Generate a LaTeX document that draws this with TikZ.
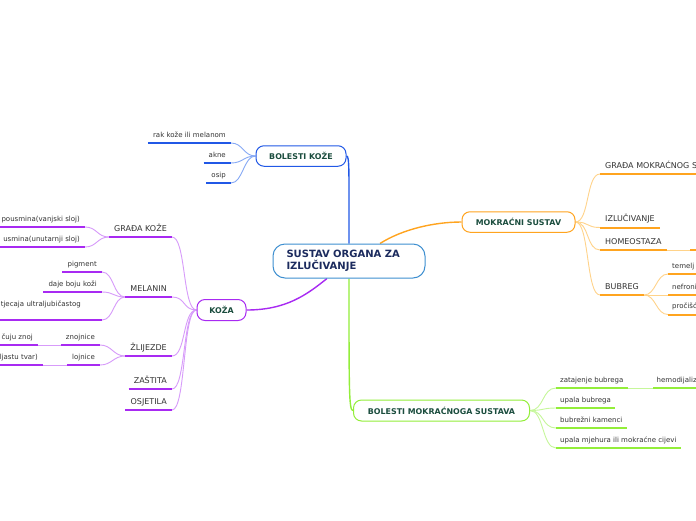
\documentclass[tikz,border=0pt]{standalone}
\usepackage{fontspec}
\setmainfont{DejaVu Sans}
\usetikzlibrary{calc,backgrounds}
\definecolor{txt}{HTML}{333333}
\definecolor{boxtxt}{HTML}{1B4D3E}
\definecolor{navy}{HTML}{1C2B5E}
\definecolor{cborder}{HTML}{3E8FD0}
\definecolor{blueD}{HTML}{2158E6}
\definecolor{blueL}{HTML}{86A9F5}
\definecolor{orD}{HTML}{FFA41F}
\definecolor{orL}{HTML}{FFD38A}
\definecolor{grD}{HTML}{93EE3A}
\definecolor{grL}{HTML}{C6F79A}
\definecolor{puD}{HTML}{A82AF2}
\definecolor{puL}{HTML}{D79BFA}
\tikzset{
  cbox/.style={draw=cborder, line width=1pt, fill=white, rounded corners=12pt,
    minimum width=152pt, minimum height=34pt, inner xsep=13.5pt, inner ysep=0pt,
    text width=125pt, align=left, font=\bfseries\fontsize{10}{11.5}\selectfont, text=navy},
  mbox/.style={draw=#1, line width=1pt, fill=white, rounded corners=8pt,
    minimum height=20.5pt, inner sep=0pt, font=\bfseries\fontsize{7.9}{9}\selectfont, text=boxtxt},
  leafbig/.style={inner xsep=5pt, inner ysep=3pt, text height=6pt, text depth=2.5pt,
    font=\fontsize{8}{9.6}\selectfont, text=txt},
  leafsm/.style={inner xsep=5pt, inner ysep=3pt, text height=5.5pt, text depth=2.5pt,
    font=\fontsize{7}{8.4}\selectfont, text=txt},
  conn/.style={draw=#1, line width=0.9pt},
  trunk/.style={draw=#1, line width=1.4pt},
}
\begin{document}
\begin{tikzpicture}[x=1pt,y=-1pt]
\useasboundingbox (0,0) rectangle (696,520);

% main boxes
\node[cbox] (c) at (349,261) {SUSTAV ORGANA ZA\\IZLUČIVANJE};
\node[mbox=blueD, minimum width=90pt] (bk) at (301,156) {BOLESTI KOŽE};
\node[mbox=orD, minimum width=113pt] (mk) at (518.5,222) {MOKRAĆNI SUSTAV};
\node[mbox=grD, minimum width=176pt, minimum height=21pt] (bm) at (441.5,410.5) {BOLESTI MOKRAĆNOGA SUSTAVA};
\node[mbox=puD, minimum width=49pt, minimum height=21pt] (kz) at (221.5,310) {KOŽA};

% blue leaves
\node[leafsm, anchor=south east] (b1) at (231,143) {rak kože ili melanom};
\node[leafsm, anchor=south east] (b2) at (231,163) {akne};
\node[leafsm, anchor=south east] (b3) at (231,183) {osip};

% orange leaves
\node[leafbig, anchor=south west, text width=100pt, align=left] (o1) at (600,174) {GRAĐA MOKRAĆNOG S};
\node[leafbig, anchor=south west] (o2) at (600,227.5) {IZLUČIVANJE};
\node[leafbig, anchor=south west] (o3) at (600,250) {HOMEOSTAZA};
\node[leafbig, anchor=south west, minimum width=20pt] (o31) at (690,250) {};
\node[leafbig, anchor=south west] (o4) at (600,295) {BUBREG};
\node[leafsm, anchor=south west, text width=30pt, align=left, inner xsep=4pt] (o41) at (668,274) {temelj};
\node[leafsm, anchor=south west, text width=30pt, align=left, inner xsep=4pt] (o42) at (668,295) {nefroni};
\node[leafsm, anchor=south west, text width=30pt, align=left, inner xsep=4pt] (o43) at (668,314.5) {pročišć};

% green leaves
\node[leafsm, anchor=south west, inner xsep=4pt] (g1) at (556,388) {zatajenje bubrega};
\node[leafsm, anchor=south west, inner xsep=3.5pt, text width=45pt, align=left] (g11) at (653,388) {hemodijaliz};
\node[leafsm, anchor=south west, inner xsep=4pt] (g2) at (556,408) {upala bubrega};
\node[leafsm, anchor=south west, inner xsep=4pt] (g3) at (556,428) {bubrežni kamenci};
\node[leafsm, anchor=south west, inner xsep=4pt] (g4) at (556,448) {upala mjehura ili mokraćne cijevi};

% purple leaves
\node[leafbig, anchor=south east] (p1) at (172,237) {GRAĐA KOŽE};
\node[leafsm, anchor=south east] (p11) at (85,227) {pousmina(vanjski sloj)};
\node[leafsm, anchor=south east] (p12) at (85,247) {usmina(unutarnji sloj)};
\node[leafbig, anchor=south east] (p2) at (172,297) {MELANIN};
\node[leafsm, anchor=south east] (p21) at (102,272) {pigment};
\node[leafsm, anchor=south east] (p22) at (102,292) {daje boju koži};
\node[leafsm, anchor=south east, text width=96pt, align=left, text depth=10.5pt] (p23) at (102,320) {tjecaja ultraljubičastog};
\node[leafbig, anchor=south east] (p3) at (172,356) {ŽLIJEZDE};
\node[leafsm, anchor=south east] (p31) at (100,345) {znojnice};
\node[leafsm, anchor=south east] (p311) at (38,345) {čuju znoj};
\node[leafsm, anchor=south east] (p32) at (100,365) {lojnice};
\node[leafsm, anchor=south east] (p321) at (43,365) {ljastu tvar)};
\node[leafbig, anchor=south east] (p4) at (172,389) {ZAŠTITA};
\node[leafbig, anchor=south east] (p5) at (172,410) {OSJETILA};

\begin{scope}[on background layer]
\fill[white] (0,0) rectangle (696,520);
% trunks
\draw[trunk=blueD] (c.north) .. controls +(0,-75) and +(3,0) .. (bk.east);
\draw[trunk=orD] ($(c.north)+(31,0)$) .. controls +(22,-14) and +(-28,0) .. (mk.west);
\draw[trunk=puD] ($(c.south)+(-22,0)$) .. controls +(-20,16) and +(40,0) .. (kz.east);
\draw[trunk=grD] (c.south) .. controls +(0,115) and +(-4,0) .. (bm.west);

% blue connectors
\foreach \n in {b1,b2,b3}
  \draw[conn=blueL] (bk.west) .. controls +(-12,0) and +(12,0) .. (\n.south east);
% orange connectors
\foreach \n in {o1,o2,o3,o4}
  \draw[conn=orL] (mk.east) .. controls +(14,0) and +(-14,0) .. (\n.south west);
\draw[conn=orL] (o3.south east) -- (o31.south west);
\foreach \n in {o41,o42,o43}
  \draw[conn=orL] (o4.south east) .. controls +(12,0) and +(-12,0) .. (\n.south west);
% green connectors
\foreach \n in {g1,g2,g3,g4}
  \draw[conn=grL] (bm.east) .. controls +(14,0) and +(-14,0) .. (\n.south west);
\draw[conn=grL] (g1.south east) -- (g11.south west);
% purple connectors
\foreach \n in {p1,p2,p3,p4,p5}
  \draw[conn=puL] (kz.west) .. controls +(-14,0) and +(14,0) .. (\n.south east);
\foreach \n in {p11,p12}
  \draw[conn=puL] (p1.south west) .. controls +(-12,0) and +(12,0) .. (\n.south east);
\foreach \n in {p21,p22,p23}
  \draw[conn=puL] (p2.south west) .. controls +(-12,0) and +(12,0) .. (\n.south east);
\foreach \n in {p31,p32}
  \draw[conn=puL] (p3.south west) .. controls +(-12,0) and +(12,0) .. (\n.south east);
\draw[conn=puL] (p31.south west) -- (p311.south east);
\draw[conn=puL] (p32.south west) -- (p321.south east);
\end{scope}

% underlines
\foreach \n/\col in {b1/blueD,b2/blueD,b3/blueD,
  o1/orD,o2/orD,o3/orD,o31/orD,o4/orD,o41/orD,o42/orD,o43/orD,
  g1/grD,g11/grD,g2/grD,g3/grD,g4/grD,
  p1/puD,p11/puD,p12/puD,p2/puD,p21/puD,p22/puD,p23/puD,
  p3/puD,p31/puD,p311/puD,p32/puD,p321/puD,p4/puD,p5/puD}
  \draw[line width=2pt,draw=\col] (\n.south west) -- (\n.south east);
\end{tikzpicture}
\end{document}
